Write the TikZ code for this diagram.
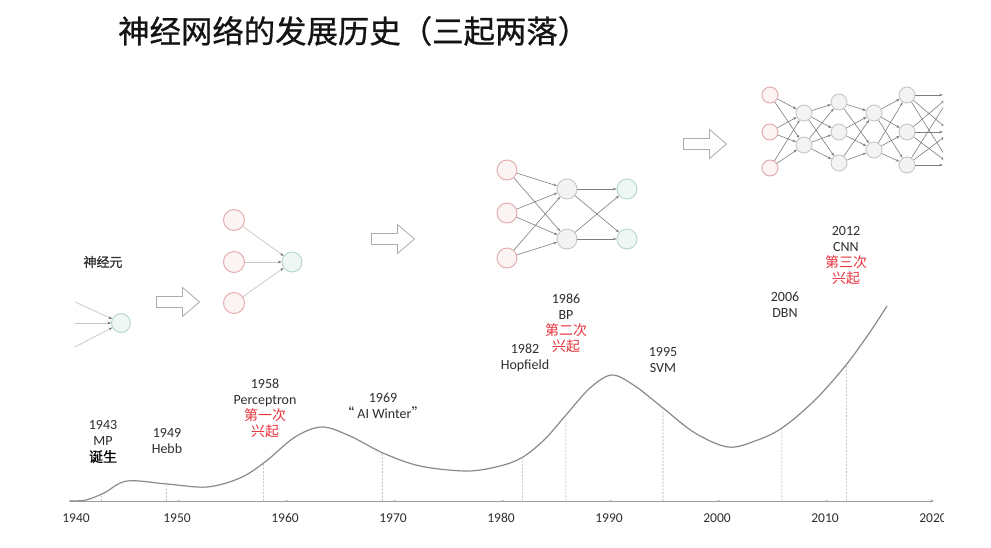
\documentclass[tikz,border=0pt]{standalone}
\usepackage{fontspec}
\setmainfont{Carlito}
\newfontfamily\cjk{Noto Sans CJK SC}
\newfontfamily\cjkb[FakeBold=0.8]{Noto Sans CJK SC}
\usetikzlibrary{arrows.meta,intersections}
\definecolor{txt}{HTML}{2E2E2E}
\definecolor{redtxt}{HTML}{E8323C}
\definecolor{rstroke}{HTML}{E4A8AA}
\definecolor{rfill}{HTML}{FCF3F3}
\definecolor{gstroke}{HTML}{C6C6C6}
\definecolor{gfill}{HTML}{F3F3F3}
\definecolor{tstroke}{HTML}{B6D6CE}
\definecolor{tfill}{HTML}{EFF7F5}
\definecolor{linec}{HTML}{7E7E7E}
\definecolor{curvec}{HTML}{8A8A8A}
\begin{document}
\begin{tikzpicture}[x=1pt,y=-1pt,
  neur/.style={circle,line width=0.9pt,inner sep=0pt,minimum size=21pt},
  rnode/.style={neur,draw=rstroke,fill=rfill},
  gnode/.style={neur,draw=gstroke,fill=gfill},
  tnode/.style={neur,draw=tstroke,fill=tfill},
  sm/.style={minimum size=16pt},
  ghost/.style={circle,inner sep=0pt,minimum size=16pt},
  syn/.style={draw=linec,line width=0.6pt,-{Stealth[length=3.5pt,width=2.6pt]}},
  psyn/.style={draw=gray!45,line width=0.7pt,-{Stealth[length=3.5pt,width=2.6pt,color=gray!80!black]}},
  lbl/.style={font=\fontsize{14}{16}\selectfont,text=txt,align=center,inner sep=0pt},
  ylbl/.style={font=\fontsize{13.5}{16}\selectfont,text=txt,inner sep=0pt},
  dline/.style={draw=gray!65,line width=0.6pt,dash pattern=on 2pt off 1.5pt},
  harrow/.pic={\draw[draw=gray!65,fill=white,line width=0.8pt]
     (-21.5,-5.5) -- (4.5,-5.5) -- (4.5,-14.5) -- (21.5,0) -- (4.5,14.5) -- (4.5,5.5) -- (-21.5,5.5) -- cycle;}
]
\useasboundingbox[fill=white] (0,0) rectangle (991,547);
\begin{scope}
\clip (0,0) rectangle (943,547);

% title
\node[anchor=west,inner sep=0pt,font=\cjkb\fontsize{31.4}{31.4}\selectfont,text=black!92] (title) at (118,31) {神经网络的发展历史（三起两落）};

% single neuron
\node[font=\cjkb\fontsize{13}{13}\selectfont,text=txt,inner sep=0pt] (neulbl) at (103,262) {神经元};
\node[tnode,minimum size=19pt] (n0) at (121,323) {};
\coordinate (in1) at (75,302);
\coordinate (in2) at (75,323);
\coordinate (in3) at (75,347);
\foreach \k in {1,2,3} \draw[psyn] (in\k) -- (n0);

% hollow arrows
\pic at (178,302) {harrow};
\pic at (393,239) {harrow};
\pic at (705,144) {harrow};

% perceptron
\node[rnode] (p1) at (234,220) {};
\node[rnode] (p2) at (234,262) {};
\node[rnode] (p3) at (234,303) {};
\node[tnode,minimum size=20pt] (po) at (292,262) {};
\foreach \k in {1,2,3} \draw[psyn] (p\k) -- (po);

% MLP
\node[rnode,minimum size=20pt] (m1) at (507,170) {};
\node[rnode,minimum size=20pt] (m2) at (507,213) {};
\node[rnode,minimum size=20pt] (m3) at (507,258) {};
\node[gnode,minimum size=20pt] (h1) at (567,189) {};
\node[gnode,minimum size=20pt] (h2) at (567,239) {};
\node[tnode,minimum size=20pt] (o1) at (627,189) {};
\node[tnode,minimum size=20pt] (o2) at (627,239) {};
\foreach \i in {1,2,3} \foreach \j in {1,2} \draw[syn] (m\i) -- (h\j);
\foreach \i in {1,2} \foreach \j in {1,2} \draw[syn] (h\i) -- (o\j);

% deep net
\node[rnode,sm] (a1) at (770,95) {};
\node[rnode,sm] (a2) at (770,132) {};
\node[rnode,sm] (a3) at (770,168) {};
\node[gnode,sm] (b1) at (804,113) {};
\node[gnode,sm] (b2) at (804,145) {};
\node[gnode,sm] (c1) at (839,102) {};
\node[gnode,sm] (c2) at (839,132) {};
\node[gnode,sm] (c3) at (839,163) {};
\node[gnode,sm] (d1) at (874,113) {};
\node[gnode,sm] (d2) at (874,150) {};
\node[gnode,sm] (e1) at (907,95) {};
\node[gnode,sm] (e2) at (907,132) {};
\node[gnode,sm] (e3) at (907,165) {};
\node[ghost] (f1) at (951,95) {};
\node[ghost] (f2) at (951,132) {};
\node[ghost] (f3) at (951,165) {};
\foreach \i in {1,2,3} \foreach \j in {1,2} {\draw[syn] (a\i) -- (b\j); \draw[syn] (c\i) -- (d\j);}
\foreach \i in {1,2} \foreach \j in {1,2,3} {\draw[syn] (b\i) -- (c\j); \draw[syn] (d\i) -- (e\j);}
\foreach \i in {1,2,3} \foreach \j in {1,2,3} \draw[syn] (e\i) -- (f\j);

% axis
\coordinate (ax0) at (70,501);
\coordinate (ax1) at (934,501);
\draw[draw=gray!75,line width=0.8pt,-{Stealth[length=4pt,width=3pt]}] (ax0) -- (ax1);
\foreach \yr in {1940,1950,...,2010} \fill[gray!70] ({69+(\yr-1940)*10.8+1.5},501) circle (1.2pt);
\node[ylbl] (t1940) at (76,518) {1940};
\foreach \yr in {1950,1960,...,2020} \node[ylbl] (t\yr) at ({69+(\yr-1940)*10.8},518) {\yr};

% curve
\draw[name path=curve,draw=curvec,line width=1.2pt,line cap=round]
  plot[smooth,tension=0.55] coordinates {
  (70,501) (86,500) (104,493) (127,481) (167,484) (207,487) (240,478) (265,462)
  (295,437) (322,427) (350,436) (383,453) (420,466) (467,471) (500,466) (523,457)
  (545,439) (566,415) (590,388) (612,375) (635,386) (663,408) (695,433) (728,447)
  (755,441) (782,428) (815,400) (846,365) (870,332) (887,306)};

% dashed event lines
\foreach \yr/\nm in {1943/ea,1949/eb,1958/ec,1969/ed,1982/ee,1986/ef,1995/eg,2006/eh,2012/ei} {
  \path[name path=v\nm] ({69+(\yr-1940)*10.8},505) -- ++(0,-300);
  \path[name intersections={of=curve and v\nm,by={i\nm}}];
  \coordinate (b\nm) at ({69+(\yr-1940)*10.8},501);
  \draw[dline] (b\nm) -- (i\nm);
}

% labels
\node[lbl] (l1943) at (103,442) {1943\\MP\\{\cjkb\color{black}诞生}};
\node[lbl] (l1949) at (167,441) {1949\\Hebb};
\node[lbl] (l1958) at (265,408) {1958\\Perceptron\\{\cjk\color{redtxt}第一次}\\{\cjk\color{redtxt}兴起}};
\node[lbl] (l1969) at (383,406) {1969\\{\cjk “}\hspace{3pt}AI Winter{\cjk ”}};
\node[lbl] (l1982) at (525,358) {1982\\Hopfield};
\node[lbl] (l1986) at (566,323) {1986\\BP\\{\cjk\color{redtxt}第二次}\\{\cjk\color{redtxt}兴起}};
\node[lbl] (l1995) at (663,360) {1995\\SVM};
\node[lbl] (l2006) at (785,305) {2006\\DBN};
\node[lbl] (l2012) at (846,256) {2012\\CNN\\{\cjk\color{redtxt}第三次}\\{\cjk\color{redtxt}兴起}};
\end{scope}
\end{tikzpicture}
\end{document}
